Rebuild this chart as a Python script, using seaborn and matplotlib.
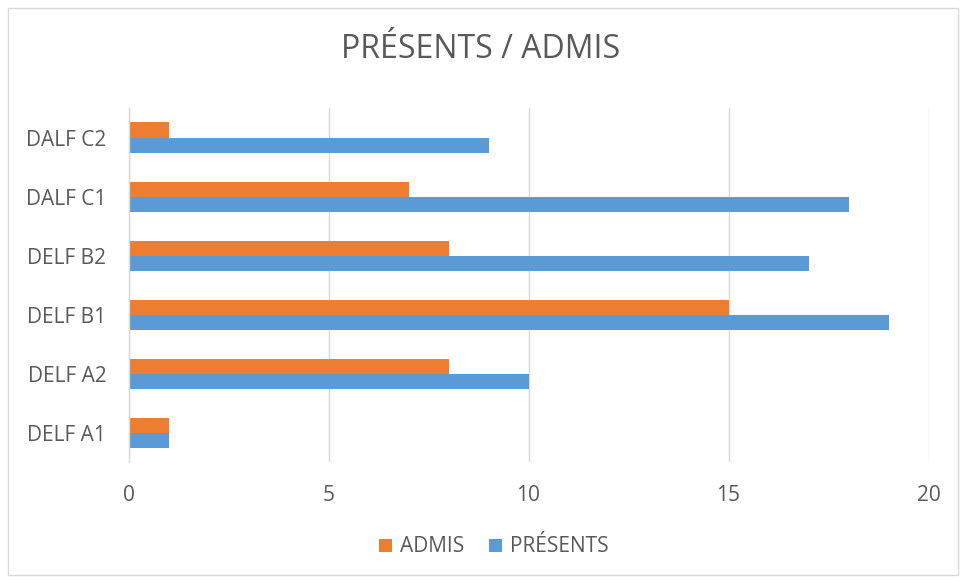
import pandas as pd
import matplotlib.pyplot as plt
import seaborn as sns
from matplotlib.patches import Rectangle

# Données
categories = ["DALF C2", "DALF C1", "DELF B2", "DELF B1", "DELF A2", "DELF A1"]
admis = [1, 7, 8, 15, 8, 1]
presents = [9, 18, 17, 19, 10, 1]
series = ["ADMIS", "PRÉSENTS"]
couleurs = ["#ED7D31", "#5B9BD5"]

df = pd.DataFrame({
    "niveau": categories * 2,
    "valeur": admis + presents,
    "serie": [series[0]] * len(categories) + [series[1]] * len(categories),
})

sns.set_style("white")
plt.rcParams["font.family"] = ["Open Sans", "DejaVu Sans"]

fig = plt.figure(figsize=(9.61, 5.81), dpi=100)
ax = fig.add_axes([128.5 / 961, 1 - 462.4 / 581, 800 / 961, 354.4 / 581])

sns.barplot(data=df, y="niveau", x="valeur", hue="serie", order=categories,
            hue_order=series, palette=couleurs, width=0.51, orient="h",
            saturation=1, linewidth=0, ax=ax)

ax.set_xlim(0, 20)
ax.set_xticks([0, 5, 10, 15, 20])
ax.xaxis.grid(True, color="#d9d9d9", linewidth=1)
ax.set_axisbelow(True)
for s in ["top", "right", "bottom"]:
    ax.spines[s].set_visible(False)
ax.spines["left"].set_color("#d9d9d9")
ax.spines["left"].set_linewidth(1)
ax.tick_params(axis="both", length=0, colors="#595959", labelsize=15)
ax.tick_params(axis="x", pad=16)
ax.tick_params(axis="y", pad=16)
ax.set_xlabel("")
ax.set_ylabel("")

fig.text(0.5, 1 - 50 / 581, "PRÉSENTS / ADMIS", ha="center", va="center",
         fontsize=23, color="#595959")

ax.legend(loc="center", bbox_to_anchor=(494 / 961, 1 - 547 / 581),
          bbox_transform=fig.transFigure, ncol=2, frameon=False,
          fontsize=15, labelcolor="#595959", handlelength=0.6,
          handleheight=0.6, handletextpad=0.4, columnspacing=1.2)

fig.patches.append(Rectangle((8 / 961, 6 / 581), 950 / 961, 567 / 581,
                             transform=fig.transFigure, fill=False,
                             edgecolor="#d9d9d9", linewidth=1))

fig.savefig("out.png", dpi=100)
